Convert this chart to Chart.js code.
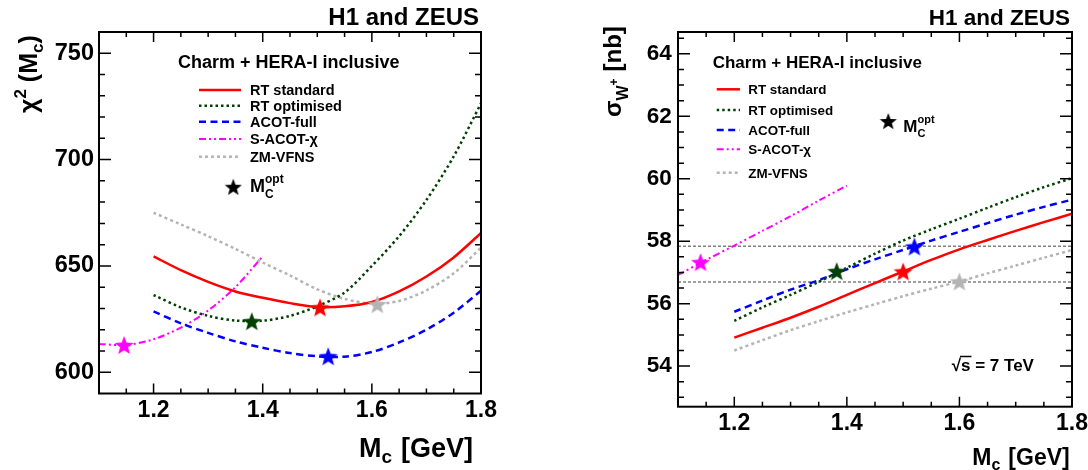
<!DOCTYPE html>
<html>
<head>
<meta charset="utf-8">
<script src="https://cdn.jsdelivr.net/npm/chart.js@4.4.1/dist/chart.umd.min.js"></script>
<style>
  body { margin: 0; background: #fff; }
  .row { display: flex; width: 1088px; height: 470px; }
  .panel { position: relative; width: 544px; height: 470px; }
</style>
</head>
<body>
<div class="row">
  <div class="panel"><canvas id="chi2Chart"></canvas></div>
  <div class="panel"><canvas id="sigmaChart"></canvas></div>
</div>
<script>
const FONT = '"Liberation Sans", Arial, Helvetica, sans-serif';

// ---- left panel: chi2 as a function of Mc ----
const mcGrid = [1.2, 1.25, 1.3, 1.35, 1.4, 1.45, 1.5, 1.55, 1.6, 1.65, 1.7, 1.75, 1.8];
const chi2RTstandard = [654.5, 648, 642.5, 638, 635, 632.5, 630.7, 631, 633, 638, 645, 654, 665.5];
const chi2RToptimised = [636.3, 630.5, 626.5, 624.3, 624.2, 626.5, 631, 637.5, 650, 664, 681, 701.5, 726.5];
const chi2ACOTfull = [628.6, 623, 618.5, 614.5, 611.5, 609, 607.5, 607.3, 609.5, 614, 620, 628, 638.3];
const mcSACOT = [1.1, 1.15, 1.2, 1.25, 1.3, 1.35, 1.4];
const chi2SACOT = [613.3, 612.8, 615.5, 621, 629, 640, 654.5];
const chi2ZMVFNS = [675, 669.5, 664, 658, 651.6, 645.5, 639, 634.5, 632.3, 633.5, 638.5, 646.5, 658.6];
// optimal Mc points: S-ACOT-chi, RT optimised, RT standard, ACOT-full, ZM-VFNS
const chi2OptMc = [1.146, 1.38, 1.505, 1.52, 1.61];
const chi2OptVal = [612.8, 624, 630.5, 607.5, 632];
const chi2Ticks = [600, 650, 700, 750];

// ---- right panel: sigma(W+) at 7 TeV ----
const sigRTstandard = [54.91, 55.23, 55.55, 55.9, 56.28, 56.66, 57.03, 57.4, 57.74, 58.04, 58.33, 58.61, 58.88];
const sigRToptimised = [55.45, 55.88, 56.28, 56.7, 57.15, 57.6, 58.02, 58.38, 58.72, 59.07, 59.41, 59.73, 60.02];
const sigACOTfull = [55.74, 56.1, 56.45, 56.75, 57.1, 57.42, 57.72, 58.02, 58.3, 58.58, 58.85, 59.1, 59.33];
const sigSACOT = [56.92, 57.4, 57.86, 58.33, 58.8, 59.3, 59.78];
const sigZMVFNS = [54.5, 54.83, 55.15, 55.44, 55.72, 55.98, 56.24, 56.48, 56.71, 56.97, 57.22, 57.47, 57.72];
const sigOptMc = [1.14, 1.382, 1.5, 1.52, 1.6];
const sigOptVal = [57.33, 57.04, 57.03, 57.83, 56.71];
const sigRefLines = [57.84, 56.69];
const sigTicks = [54, 56, 58, 60, 62, 64];

const mcTicks = [1.2, 1.4, 1.6, 1.8];

const styles = {
  rtStd: { label: 'RT standard', color: '#ff0000', width: 2.5, dash: [] },
  rtOpt: { label: 'RT optimised', color: '#004000', width: 2.5, dash: [2.5, 3] },
  acot: { label: 'ACOT-full', color: '#0000ff', width: 2.5, dash: [7, 4.5] },
  sacot: { label: 'S-ACOT-\u03c7', color: '#ff00ff', width: 2, dash: [7, 3, 2, 3, 2, 3] },
  zm: { label: 'ZM-VFNS', color: '#b4b4b4', width: 2.5, dash: [3, 3] }
};
const legendOrder = ['rtStd', 'rtOpt', 'acot', 'sacot', 'zm'];
const starColors = ['#ff00ff', '#004000', '#ff0000', '#0000ff', '#b4b4b4'];

function starImage(color, r) {
  const c = document.createElement('canvas');
  const s = Math.ceil(r * 2 + 2);
  c.width = s;
  c.height = s;
  const g = c.getContext('2d');
  g.fillStyle = color;
  g.beginPath();
  for (let i = 0; i < 10; i++) {
    const rad = i % 2 ? r * 0.42 : r;
    const a = -Math.PI / 2 + i * Math.PI / 5;
    g.lineTo(s / 2 + rad * Math.cos(a), s / 2 + 1 + rad * Math.sin(a));
  }
  g.closePath();
  g.fill();
  return c;
}

function lineSet(style, xs, ys) {
  return {
    type: 'line',
    label: style.label,
    data: xs.map((x, i) => ({ x: x, y: ys[i] })),
    borderColor: style.color,
    borderWidth: style.width,
    borderDash: style.dash,
    pointRadius: 0,
    tension: 0.3,
    fill: false,
    order: 1
  };
}

function starSet(xs, ys) {
  return {
    type: 'scatter',
    label: 'opt',
    data: xs.map((x, i) => ({ x: x, y: ys[i] })),
    pointStyle: xs.map((x, i) => starImage(starColors[i], 10)),
    order: 0
  };
}

function setFont(ctx, size) {
  ctx.font = 'bold ' + size + 'px ' + FONT;
}

function drawParts(ctx, parts, x, y, align) {
  let w = 0;
  parts.forEach(p => { setFont(ctx, p.s); w += ctx.measureText(p.t).width + (p.gap || 0); });
  let cx = align === 'right' ? x - w : x;
  parts.forEach(p => {
    setFont(ctx, p.s);
    ctx.fillText(p.t, cx, y + (p.dy || 0));
    cx += ctx.measureText(p.t).width + (p.gap || 0);
  });
}

function drawFrame(chart, xMinor, yMinor) {
  const ctx = chart.ctx;
  const a = chart.chartArea;
  const xs = chart.scales.x, ys = chart.scales.y;
  ctx.save();
  ctx.strokeStyle = '#000';
  ctx.lineWidth = 1.5;
  ctx.beginPath();
  const near = (v, arr) => arr.some(t => Math.abs(t - v) < 1e-6);
  const xMaj = xs.ticks.map(t => t.value), yMaj = ys.ticks.map(t => t.value);
  for (let k = Math.ceil(xs.min / xMinor); k * xMinor <= xs.max + 1e-9; k++) {
    const v = k * xMinor;
    const px = xs.getPixelForValue(v);
    if (px <= a.left + 1 || px >= a.right - 1) continue;
    const len = near(v, xMaj) ? 10 : 5;
    ctx.moveTo(px, a.bottom); ctx.lineTo(px, a.bottom - len);
    ctx.moveTo(px, a.top); ctx.lineTo(px, a.top + len);
  }
  for (let k = Math.ceil(ys.min / yMinor); k * yMinor <= ys.max + 1e-9; k++) {
    const v = k * yMinor;
    const py = ys.getPixelForValue(v);
    if (py <= a.top + 1 || py >= a.bottom - 1) continue;
    const len = near(v, yMaj) ? 12 : 6;
    ctx.moveTo(a.left, py); ctx.lineTo(a.left + len, py);
    ctx.moveTo(a.right, py); ctx.lineTo(a.right - len, py);
  }
  ctx.stroke();
  ctx.lineWidth = 2;
  ctx.strokeRect(a.left, a.top, a.right - a.left, a.bottom - a.top);
  ctx.restore();
}

function drawLegend(ctx, L) {
  legendOrder.forEach((key, i) => {
    const st = styles[key];
    const y = L.ys[i];
    ctx.save();
    ctx.strokeStyle = st.color;
    ctx.lineWidth = st.width;
    ctx.setLineDash(st.dash);
    ctx.beginPath();
    ctx.moveTo(L.x0, y);
    ctx.lineTo(L.x1, y);
    ctx.stroke();
    ctx.restore();
    ctx.fillStyle = '#000';
    setFont(ctx, L.size);
    ctx.fillText(st.label, L.xt, y + 0.36 * L.size);
  });
}

function drawMopt(ctx, sx, sy, mx, base, size) {
  const img = starImage('#000', 9);
  ctx.drawImage(img, sx - img.width / 2, sy - img.height / 2);
  ctx.fillStyle = '#000';
  setFont(ctx, size);
  ctx.fillText('M', mx, base);
  const w = ctx.measureText('M').width;
  setFont(ctx, Math.round(size * 0.65));
  ctx.fillText('opt', mx + w, base - 0.5 * size);
  ctx.fillText('C', mx + w, base + 0.32 * size);
}

function scaleOpts(min, max, ticks, size, pad, fixed, isX) {
  return {
    type: 'linear',
    min: min,
    max: max,
    afterBuildTicks: s => { s.ticks = ticks.map(v => ({ value: v })); },
    afterFit: s => {
      if (isX) s.height = fixed; else s.width = fixed;
      s.paddingLeft = 0; s.paddingRight = 0; s.paddingTop = 0; s.paddingBottom = 0;
    },
    ticks: {
      color: '#000',
      padding: pad,
      font: { family: FONT, size: size, weight: 'bold' },
      callback: v => isX ? v.toFixed(1) : String(v)
    },
    grid: { display: false, drawTicks: false },
    border: { display: false }
  };
}

const commonPlugins = { legend: { display: false }, tooltip: { enabled: false } };

// left chart
new Chart(document.getElementById('chi2Chart'), {
  type: 'line',
  data: {
    datasets: [
      starSet(chi2OptMc, chi2OptVal),
      lineSet(styles.rtStd, mcGrid, chi2RTstandard),
      lineSet(styles.rtOpt, mcGrid, chi2RToptimised),
      lineSet(styles.acot, mcGrid, chi2ACOTfull),
      lineSet(styles.sacot, mcSACOT, chi2SACOT),
      lineSet(styles.zm, mcGrid, chi2ZMVFNS)
    ]
  },
  options: {
    responsive: true,
    maintainAspectRatio: false,
    animation: false,
    layout: { padding: { left: 0, right: 63, top: 32, bottom: 0 } },
    plugins: commonPlugins,
    scales: {
      x: scaleOpts(1.1, 1.8, mcTicks, 23, 3, 76.5, true),
      y: scaleOpts(590, 760, chi2Ticks, 23.5, 5, 99, false)
    }
  },
  plugins: [{
    id: 'chi2Deco',
    afterDraw(chart) {
      const ctx = chart.ctx;
      drawFrame(chart, 0.05, 10);
      ctx.save();
      ctx.fillStyle = '#000';
      drawParts(ctx, [{ t: 'H1 and ZEUS', s: 24 }], chart.chartArea.right - 2, 25.3, 'right');
      drawParts(ctx, [{ t: 'Charm + HERA-I inclusive', s: 18 }], 178, 68.2, 'left');
      drawLegend(ctx, { x0: 199, x1: 241, xt: 250, ys: [90, 105.7, 121.7, 139, 156.7], size: 14.5 });
      drawMopt(ctx, 233.3, 186.7, 250, 192, 18);
      drawParts(ctx, [{ t: 'M', s: 27 }, { t: 'c', s: 19, dy: 6, gap: 9 }, { t: '[GeV]', s: 27 }], 473, 456.7, 'right');
      ctx.translate(37, 113);
      ctx.rotate(-Math.PI / 2);
      drawParts(ctx, [{ t: '\u03c7', s: 25 }, { t: '2', s: 17, dy: -11, gap: 7 }, { t: '(M', s: 25 }, { t: 'c', s: 17, dy: 6 }, { t: ')', s: 25 }], 0, 0, 'left');
      ctx.restore();
    }
  }]
});

// right chart
new Chart(document.getElementById('sigmaChart'), {
  type: 'line',
  data: {
    datasets: [
      starSet(sigOptMc, sigOptVal),
      lineSet(styles.rtStd, mcGrid, sigRTstandard),
      lineSet(styles.rtOpt, mcGrid, sigRToptimised),
      lineSet(styles.acot, mcGrid, sigACOTfull),
      lineSet(styles.sacot, mcSACOT, sigSACOT),
      lineSet(styles.zm, mcGrid, sigZMVFNS),
      ...sigRefLines.map(v => ({
        type: 'line',
        label: 'ref',
        data: [{ x: 1.1, y: v }, { x: 1.8, y: v }],
        borderColor: '#808080',
        borderWidth: 1.5,
        borderDash: [3, 2],
        pointRadius: 0,
        order: 2
      }))
    ]
  },
  options: {
    responsive: true,
    maintainAspectRatio: false,
    animation: false,
    layout: { padding: { left: 0, right: 16, top: 32, bottom: 0 } },
    plugins: commonPlugins,
    scales: {
      x: scaleOpts(1.1, 1.8, mcTicks, 23, 3, 63.3, true),
      y: scaleOpts(52.7, 64.7, sigTicks, 22.5, 6.3, 134, false)
    }
  },
  plugins: [{
    id: 'sigmaDeco',
    afterDraw(chart) {
      const ctx = chart.ctx;
      drawFrame(chart, 0.05, 0.5);
      ctx.save();
      ctx.fillStyle = '#000';
      drawParts(ctx, [{ t: 'H1 and ZEUS', s: 22.5 }], chart.chartArea.right - 2, 24.7, 'right');
      drawParts(ctx, [{ t: 'Charm + HERA-I inclusive', s: 17 }], 168.7, 67.8, 'left');
      drawLegend(ctx, { x0: 172.7, x1: 196, xt: 204.3, ys: [89.3, 110, 130, 149.3, 172.7], size: 13.4 });
      drawMopt(ctx, 344.3, 121, 359.3, 131.5, 17);
      // sqrt(s) label
      setFont(ctx, 17);
      ctx.fillText('\u221a', 407.7, 371.4);
      const rw = ctx.measureText('\u221a').width;
      const sw = ctx.measureText('s').width;
      ctx.fillText('s = 7 TeV', 407.7 + rw, 371.4);
      ctx.lineWidth = 1.5;
      ctx.beginPath();
      ctx.moveTo(407.7 + rw - 1, 356.5);
      ctx.lineTo(407.7 + rw + sw + 1, 356.5);
      ctx.stroke();
      drawParts(ctx, [{ t: 'M', s: 23 }, { t: 'c', s: 16, dy: 5, gap: 8 }, { t: '[GeV]', s: 23 }], 525.7, 465, 'right');
      ctx.translate(77, 117);
      ctx.rotate(-Math.PI / 2);
      drawParts(ctx, [{ t: '\u03c3', s: 24 }, { t: 'W', s: 16, dy: 7 }, { t: '+', s: 12, dy: -3, gap: 7 }, { t: '[nb]', s: 24 }], 0, 0, 'left');
      ctx.restore();
    }
  }]
});
</script>
</body>
</html>
